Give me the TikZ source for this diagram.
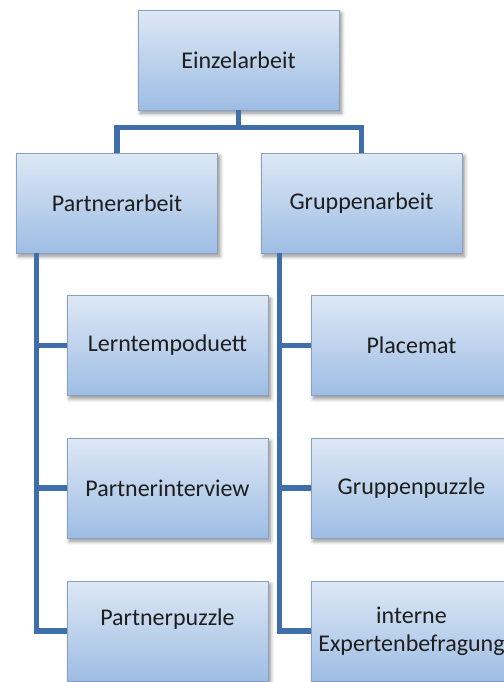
\documentclass[tikz,border=0pt]{standalone}
\usepackage{fontspec}
\setmainfont{Carlito}
\usepackage{tikz}
\usetikzlibrary{shadows,shadows.blur}
\definecolor{boxtop}{RGB}{221,232,245}
\definecolor{boxbot}{RGB}{158,189,228}
\definecolor{boxrim}{RGB}{138,160,192}
\definecolor{lnblue}{RGB}{62,111,168}
\definecolor{txt}{RGB}{30,30,30}
\tikzset{
  box/.style={draw=boxrim,line width=0.4pt,top color=boxtop,bottom color=boxbot,
    minimum width=100.5pt,minimum height=50pt,inner sep=2pt,align=center,text=txt,
    blur shadow={shadow xshift=1.2pt,shadow yshift=-1.6pt,shadow blur steps=6,shadow opacity=45}},
  ln/.style={draw=lnblue,line width=2.6pt},
}
\begin{document}
\begin{tikzpicture}[x=0.5pt,y=-0.5pt,every node/.style={font=\fontsize{12}{13.8}\selectfont}]
\useasboundingbox (0,0) rectangle (504,682);
\clip (0,0) rectangle (504,682);
\node[box] (n0) at (238.5,60) {Einzelarbeit};
\node[box] (n1_1) at (117,203) {Partnerarbeit};
\node[box] (n1_2) at (361.5,203) {Gruppenarbeit};
\node[box] (n2_1) at (167.5,345.5) {Lerntempoduett};
\node[box] (n2_2) at (167.5,488) {Partnerinterview};
\node[box] (n2_3) at (167.5,631) {Partnerpuzzle\\~};
\node[box] (n3_1) at (411.5,345.5) {Placemat};
\node[box] (n3_2) at (411.5,488) {Gruppenpuzzle};
\node[box] (n3_3) at (411.5,631) {interne\\Expertenbefragung};
\draw[ln] (n0.south) -- ++(0,17) -| (n1_1.north);
\draw[ln] (n0.south) -- ++(0,17) -| (n1_2.north);
\draw[ln] ([xshift=10pt]n1_1.south west) |- (n2_1.west);
\draw[ln] ([xshift=10pt]n1_1.south west) |- (n2_2.west);
\draw[ln] ([xshift=10pt]n1_1.south west) |- (n2_3.west);
\draw[ln] ([xshift=9.5pt]n1_2.south west) |- (n3_1.west);
\draw[ln] ([xshift=9.5pt]n1_2.south west) |- (n3_2.west);
\draw[ln] ([xshift=9.5pt]n1_2.south west) |- (n3_3.west);
\end{tikzpicture}
\end{document}
